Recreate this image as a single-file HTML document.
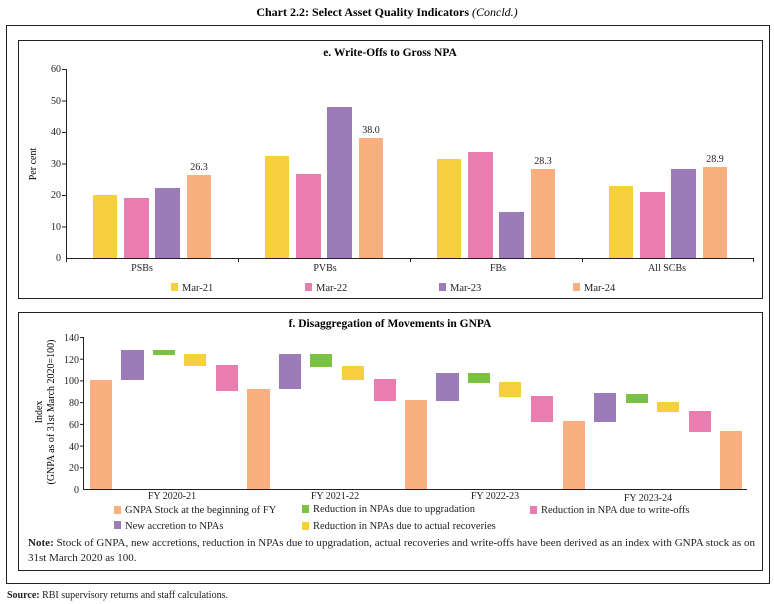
<!DOCTYPE html>
<html><head><meta charset="utf-8"><style>
html,body{margin:0;padding:0;background:#fff;}
svg{display:block;font-family:"Liberation Serif",serif;}
</style></head><body>
<svg width="774" height="604" viewBox="0 0 774 604" xmlns="http://www.w3.org/2000/svg">
<text x="387" y="16" text-anchor="middle" font-size="12" font-weight="bold">Chart 2.2: Select Asset Quality Indicators <tspan font-style="italic" font-weight="normal">(Concld.)</tspan></text>
<rect x="6.5" y="25.5" width="763" height="558" fill="none" stroke="#222" stroke-width="1"/>
<rect x="18.5" y="40.5" width="744" height="258" fill="none" stroke="#222" stroke-width="1"/>
<rect x="18.5" y="312.5" width="744" height="258" fill="none" stroke="#222" stroke-width="1"/>

<!-- chart e -->
<text x="390" y="56" text-anchor="middle" font-size="11.5" font-weight="bold">e. Write-Offs to Gross NPA</text>
<g font-size="10" text-anchor="end" fill="#222">
<text x="61" y="72">60</text><text x="61" y="104">50</text><text x="61" y="135">40</text>
<text x="61" y="167">30</text><text x="61" y="198">20</text><text x="61" y="230">10</text><text x="61" y="261">0</text>
</g>
<g stroke="#222" stroke-width="1">
<line x1="66.5" y1="69" x2="66.5" y2="262"/>
<line x1="66" y1="258.5" x2="754" y2="258.5"/>
<line x1="62" y1="69.5" x2="66" y2="69.5"/><line x1="62" y1="101" x2="66" y2="101"/><line x1="62" y1="132.5" x2="66" y2="132.5"/>
<line x1="62" y1="164" x2="66" y2="164"/><line x1="62" y1="195.5" x2="66" y2="195.5"/><line x1="62" y1="227" x2="66" y2="227"/>
<line x1="238.5" y1="258" x2="238.5" y2="262"/><line x1="410.5" y1="258" x2="410.5" y2="262"/><line x1="582.5" y1="258" x2="582.5" y2="262"/><line x1="753.5" y1="258" x2="753.5" y2="262"/>
</g>
<text transform="translate(36,164) rotate(-90)" text-anchor="middle" font-size="10">Per cent</text>
<g>
<rect x="93" y="195" width="24" height="63" fill="#F6CF3E"/>
<rect x="124" y="198" width="25" height="60" fill="#E97DB0"/>
<rect x="155" y="188" width="25" height="70" fill="#9B7BB8"/>
<rect x="187" y="175" width="24" height="83" fill="#F9AF80"/>
<rect x="265" y="156" width="24" height="102" fill="#F6CF3E"/>
<rect x="296" y="174" width="25" height="84" fill="#E97DB0"/>
<rect x="327" y="107" width="25" height="151" fill="#9B7BB8"/>
<rect x="359" y="138" width="24" height="120" fill="#F9AF80"/>
<rect x="437" y="159" width="24" height="99" fill="#F6CF3E"/>
<rect x="468" y="152" width="25" height="106" fill="#E97DB0"/>
<rect x="499" y="212" width="25" height="46" fill="#9B7BB8"/>
<rect x="531" y="169" width="24" height="89" fill="#F9AF80"/>
<rect x="609" y="186" width="24" height="72" fill="#F6CF3E"/>
<rect x="640" y="192" width="25" height="66" fill="#E97DB0"/>
<rect x="671" y="169" width="25" height="89" fill="#9B7BB8"/>
<rect x="703" y="167" width="24" height="91" fill="#F9AF80"/>
</g>
<g font-size="10" text-anchor="middle" fill="#222">
<text x="199" y="170">26.3</text><text x="371" y="133">38.0</text><text x="543" y="164">28.3</text><text x="715" y="162">28.9</text>
<text x="142" y="271">PSBs</text><text x="325" y="271">PVBs</text><text x="498" y="271">FBs</text><text x="667" y="271">All SCBs</text>
</g>
<g font-size="10.5" fill="#222">
<rect x="171" y="283" width="7" height="8" fill="#F6CF3E"/><text x="182" y="291">Mar-21</text>
<rect x="305" y="283" width="7" height="8" fill="#E97DB0"/><text x="316" y="291">Mar-22</text>
<rect x="439" y="283" width="7" height="8" fill="#9B7BB8"/><text x="450" y="291">Mar-23</text>
<rect x="573" y="283" width="7" height="8" fill="#F9AF80"/><text x="584" y="291">Mar-24</text>
</g>

<!-- chart f -->
<text x="390" y="327" text-anchor="middle" font-size="11.5" font-weight="bold">f. Disaggregation of Movements in GNPA</text>
<g font-size="10" text-anchor="end" fill="#222">
<text x="79" y="341">140</text><text x="79" y="363">120</text><text x="79" y="384">100</text>
<text x="79" y="406">80</text><text x="79" y="428">60</text><text x="79" y="450">40</text>
<text x="79" y="471">20</text><text x="79" y="493">0</text>
</g>
<g stroke="#222" stroke-width="1">
<line x1="83.5" y1="337" x2="83.5" y2="490"/>
<line x1="83" y1="489.5" x2="747" y2="489.5"/>
<line x1="80" y1="337.5" x2="83" y2="337.5"/><line x1="80" y1="359.2" x2="83" y2="359.2"/><line x1="80" y1="380.9" x2="83" y2="380.9"/>
<line x1="80" y1="402.6" x2="83" y2="402.6"/><line x1="80" y1="424.4" x2="83" y2="424.4"/><line x1="80" y1="446.1" x2="83" y2="446.1"/><line x1="80" y1="467.8" x2="83" y2="467.8"/>
</g>
<text transform="translate(42,412) rotate(-90)" text-anchor="middle" font-size="10">Index</text>
<text transform="translate(54,412) rotate(-90)" text-anchor="middle" font-size="10">(GNPA as of 31st March 2020=100)</text>
<g>
<rect x="90" y="380" width="22" height="109" fill="#F9AF80"/>
<rect x="121" y="350" width="23" height="30" fill="#9B7BB8"/>
<rect x="153" y="350" width="22" height="5" fill="#7CC242"/>
<rect x="184" y="354" width="22" height="12" fill="#F6CF3E"/>
<rect x="216" y="365" width="22" height="26" fill="#E97DB0"/>

<rect x="247" y="389" width="23" height="100" fill="#F9AF80"/>
<rect x="279" y="354" width="22" height="35" fill="#9B7BB8"/>
<rect x="310" y="354" width="22" height="13" fill="#7CC242"/>
<rect x="342" y="366" width="22" height="14" fill="#F6CF3E"/>
<rect x="374" y="379" width="22" height="22" fill="#E97DB0"/>

<rect x="405" y="400" width="22" height="89" fill="#F9AF80"/>
<rect x="436" y="373" width="23" height="28" fill="#9B7BB8"/>
<rect x="468" y="373" width="22" height="10" fill="#7CC242"/>
<rect x="499" y="382" width="22" height="15" fill="#F6CF3E"/>
<rect x="531" y="396" width="22" height="26" fill="#E97DB0"/>

<rect x="563" y="421" width="22" height="68" fill="#F9AF80"/>
<rect x="594" y="393" width="22" height="29" fill="#9B7BB8"/>
<rect x="626" y="394" width="22" height="9" fill="#7CC242"/>
<rect x="657" y="402" width="22" height="10" fill="#F6CF3E"/>
<rect x="689" y="411" width="22" height="21" fill="#E97DB0"/>
<rect x="720" y="431" width="22" height="58" fill="#F9AF80"/>
</g>
<g font-size="10" text-anchor="middle" fill="#222">
<text x="172" y="499">FY 2020-21</text><text x="335" y="499">FY 2021-22</text>
<text x="495" y="499">FY 2022-23</text><text x="648" y="501">FY 2023-24</text>
</g>
<g font-size="10.5" fill="#222">
<rect x="114" y="506" width="7" height="8" fill="#F9AF80"/><text x="125" y="513">GNPA Stock at the beginning of FY</text>
<rect x="302" y="505" width="7" height="8" fill="#7CC242"/><text x="313" y="512">Reduction in NPAs due to upgradation</text>
<rect x="530" y="506" width="7" height="8" fill="#E97DB0"/><text x="541" y="513">Reduction in NPA due to write-offs</text>
<rect x="114" y="521" width="7" height="8" fill="#9B7BB8"/><text x="125" y="529">New accretion to NPAs</text>
<rect x="302" y="522" width="7" height="8" fill="#F6CF3E"/><text x="313" y="529">Reduction in NPAs due to actual recoveries</text>
</g>
<g font-size="11" fill="#222">
<text x="28" y="546" textLength="727" lengthAdjust="spacingAndGlyphs"><tspan font-weight="bold">Note:</tspan> Stock of GNPA, new accretions, reduction in NPAs due to upgradation, actual recoveries and write-offs have been derived as an index with GNPA stock as on</text>
<text x="28" y="561">31st March 2020 as 100.</text>
<text x="7" y="598" font-size="10"><tspan font-weight="bold">Source:</tspan> RBI supervisory returns and staff calculations.</text>
</g>
</svg>
</body></html>
